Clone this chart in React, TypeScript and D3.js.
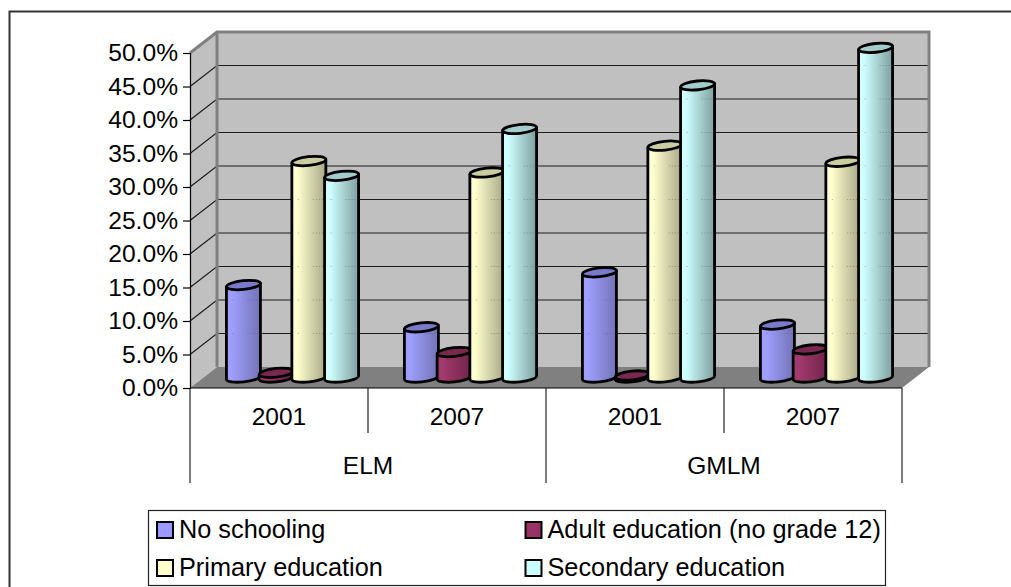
import React, { useEffect, useRef } from 'react';
import * as d3 from 'd3';

const years = ['2001', '2007', '2001', '2007'];
const groups = ['ELM', 'GMLM'];
const yTicks = [0, 5, 10, 15, 20, 25, 30, 35, 40, 45, 50];

const seriesNames = ['No schooling', 'Adult education (no grade 12)', 'Primary education', 'Secondary education'];
const noSchooling = [13.8, 7.5, 15.7, 7.9];
const adultEducation = [0.7, 3.8, 0.3, 4.2];
const primaryEducation = [32.3, 30.6, 34.6, 32.2];
const secondaryEducation = [30.1, 37.1, 43.6, 49.2];
const seriesValues = [noSchooling, adultEducation, primaryEducation, secondaryEducation];

const light = ['#9f9fff', '#a33a6e', '#ffffcf', '#cfffff'];
const dark = ['#7373b5', '#6f2449', '#a8a888', '#7f9f9f'];
const topFill = ['#7a7acc', '#7a2850', '#cccca3', '#a3cccc'];
const swatch = ['#9999ff', '#993366', '#ffffcc', '#ccffff'];

const FONT = '"Liberation Sans", Arial, sans-serif';

const App = () => {
  const ref = useRef<SVGSVGElement>(null);

  useEffect(() => {
    const svg = d3.select(ref.current);
    svg.selectAll('*').remove();

    const x0 = 190;
    const x1 = 902;
    const y0 = 388;
    const y1 = 53;
    const depthX = 27;
    const depthY = 21;

    const y = d3.scaleLinear().domain([0, 50]).range([y0, y1]);
    const xCat = d3.scaleBand<number>().domain(d3.range(years.length)).range([x0, x1]);
    const xBar = d3
      .scaleBand<number>()
      .domain(d3.range(seriesNames.length))
      .range([0, xCat.bandwidth()])
      .paddingOuter(0.72)
      .paddingInner(0);

    // outer frame: only top and left show in the picture
    svg.append('path').attr('d', 'M9.5,587V11.5H1011').attr('fill', 'none').attr('stroke', '#333').attr('stroke-width', 2);

    // walls and floor
    svg
      .append('path')
      .attr('d', `M${x0},${y(50)}L${x0 + depthX},${y(50) - depthY}V${y(0) - depthY}L${x0},${y(0)}Z`)
      .attr('fill', '#c0c0c0');
    svg
      .append('rect')
      .attr('x', x0 + depthX)
      .attr('y', y(50) - depthY)
      .attr('width', x1 - x0)
      .attr('height', y(0) - y(50))
      .attr('fill', '#c0c0c0');
    svg
      .append('path')
      .attr('d', `M${x0},${y0}L${x1},${y0}L${x1 + depthX},${y0 - depthY}H${x0 + depthX}Z`)
      .attr('fill', '#808080');

    // gridlines on side wall and back wall
    const grid = svg.append('g');
    yTicks.slice(1, -1).forEach(t => {
      grid
        .append('path')
        .attr('d', `M${x0},${y(t)}L${x0 + depthX},${y(t) - depthY}H${x1 + depthX}`)
        .attr('fill', 'none')
        .attr('stroke', '#1c1c1c')
        .attr('stroke-width', 1.2);
    });

    svg
      .append('path')
      .attr('d', `M${x0},${y(50)}L${x0 + depthX},${y(50) - depthY}H${x1 + depthX}V${y0 - depthY}`)
      .attr('fill', 'none')
      .attr('stroke', '#808080')
      .attr('stroke-width', 3);
    svg
      .append('line')
      .attr('x1', x0 + depthX)
      .attr('x2', x0 + depthX)
      .attr('y1', y(50) - depthY)
      .attr('y2', y0 - depthY)
      .attr('stroke', '#808080')
      .attr('stroke-width', 3);

    // gradients
    const defs = svg.append('defs');
    seriesNames.forEach((_, i) => {
      const g = defs.append('linearGradient').attr('id', `cyl${i}`);
      g.append('stop').attr('offset', '0%').attr('stop-color', light[i]);
      g.append('stop').attr('offset', '15%').attr('stop-color', light[i]);
      g.append('stop').attr('offset', '100%').attr('stop-color', dark[i]);
    });

    // cylinders
    const rx = 17;
    const ry = 4.4;
    const tilt = -6;
    const lift = 1.8;
    const bars = svg.append('g');
    years.forEach((_, c) => {
      seriesNames.forEach((_, s) => {
        const v = seriesValues[s][c];
        const cx = xCat(c)! + xBar(s)! + xBar.bandwidth() / 2 + depthX / 2;
        const top = y(v) - depthY / 2;
        const base = y(0) - depthY / 2;
        const xl = cx - rx;
        const xr = cx + rx;
        bars
          .append('path')
          .attr(
            'd',
            `M${xl},${top + lift}L${xl},${base + lift}A${rx},${ry} ${tilt} 0 0 ${xr},${base - lift}L${xr},${top - lift}Z`
          )
          .attr('fill', `url(#cyl${s})`)
          .attr('stroke', '#000')
          .attr('stroke-width', 2.8)
          .attr('stroke-linejoin', 'round');
        // faint dotted traces of the gridlines across the cylinder
        yTicks.slice(1, -1).forEach(t => {
          const gy = y(t) - depthY;
          if (gy > top + 6 && gy < base - 2) {
            bars
              .append('path')
              .attr('d', `M${xl + 6},${gy}h2M${xl + 21},${gy}h11`)
              .attr('stroke', '#555')
              .attr('stroke-opacity', 0.45)
              .attr('stroke-dasharray', '1 2');
          }
        });
        bars
          .append('ellipse')
          .attr('cx', cx)
          .attr('cy', top)
          .attr('rx', rx)
          .attr('ry', ry)
          .attr('transform', `rotate(${tilt} ${cx} ${top})`)
          .attr('fill', topFill[s])
          .attr('stroke', '#000')
          .attr('stroke-width', 2.8);
      });
    });

    // y axis
    const yAxis = svg
      .append('g')
      .attr('transform', `translate(${x0},0)`)
      .call(
        d3
          .axisLeft(y)
          .tickValues(yTicks)
          .tickSize(7)
          .tickPadding(5)
          .tickFormat(d => `${(d as number).toFixed(1)}%`)
      );
    yAxis.select('.domain').attr('stroke', '#000').attr('stroke-width', 1.2);
    yAxis.selectAll('.tick line').attr('stroke', '#000').attr('stroke-width', 1.2);
    yAxis.selectAll('text').attr('fill', '#000').attr('font-family', FONT).attr('font-size', 24.6);

    // x axis: two level category labels
    const xAxis = svg.append('g').attr('font-family', FONT).attr('font-size', 24.5).attr('fill', '#000');
    xAxis.append('line').attr('x1', x0).attr('x2', x1).attr('y1', y0).attr('y2', y0).attr('stroke', '#000').attr('stroke-width', 1.2);
    years.forEach((yr, c) => {
      const b = xCat(c)!;
      xAxis
        .append('text')
        .attr('x', b + xCat.bandwidth() / 2)
        .attr('y', 425)
        .attr('text-anchor', 'middle')
        .text(yr);
      const isGroupEdge = c % 2 === 0;
      xAxis
        .append('line')
        .attr('x1', b)
        .attr('x2', b)
        .attr('y1', y0)
        .attr('y2', isGroupEdge ? 483 : 433)
        .attr('stroke', '#222')
        .attr('stroke-width', 1.2);
    });
    xAxis.append('line').attr('x1', x1).attr('x2', x1).attr('y1', y0).attr('y2', 483).attr('stroke', '#222').attr('stroke-width', 1.2);
    groups.forEach((g, i) => {
      xAxis
        .append('text')
        .attr('x', x0 + ((x1 - x0) / groups.length) * (i + 0.5))
        .attr('y', 474)
        .attr('text-anchor', 'middle')
        .text(g);
    });

    // legend
    const legend = svg.append('g').attr('font-family', FONT).attr('font-size', 25.3);
    legend
      .append('rect')
      .attr('x', 148.5)
      .attr('y', 510.5)
      .attr('width', 737)
      .attr('height', 75)
      .attr('fill', '#fff')
      .attr('stroke', '#222')
      .attr('stroke-width', 1.2);
    seriesNames.forEach((name, i) => {
      const lx = i % 2 === 0 ? 157 : 525.5;
      const ly = i < 2 ? 522 : 560;
      legend
        .append('rect')
        .attr('x', lx)
        .attr('y', ly)
        .attr('width', 16)
        .attr('height', 16)
        .attr('fill', swatch[i])
        .attr('stroke', '#000')
        .attr('stroke-width', 2);
      legend
        .append('text')
        .attr('x', lx + 22)
        .attr('y', ly + 16)
        .attr('fill', '#000')
        .text(name);
    });
  }, []);

  return <svg ref={ref} width={1011} height={587} style={{ position: 'absolute', left: 0, top: 0, background: '#fff' }} />;
};

export default App;
